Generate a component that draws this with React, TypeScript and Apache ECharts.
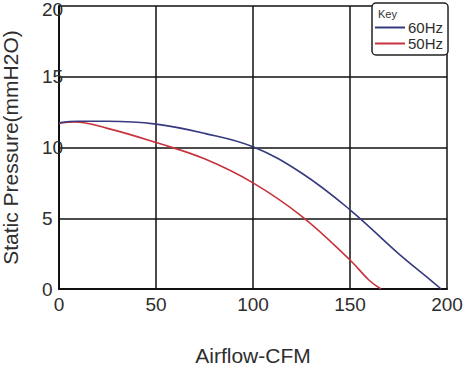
import React, { useEffect, useRef } from "react";
import * as echarts from "echarts";

const xTicks = [0, 50, 100, 150, 200];
const yTicks = [0, 5, 10, 15, 20];

const airflow60 = [0, 10, 25, 50, 75, 100, 125, 150, 175, 190, 197];
const pressure60 = [11.75, 11.85, 11.85, 11.65, 11.0, 10.05, 8.2, 5.6, 2.5, 0.8, 0];

const airflow50 = [0, 8, 25, 50, 75, 100, 125, 150, 160, 166];
const pressure50 = [11.7, 11.8, 11.35, 10.35, 9.2, 7.5, 5.15, 2.05, 0.6, 0];

const seriesNames = ["60Hz", "50Hz"];
const legendTitle = "Key";
const xTitle = "Airflow-CFM";
const yTitle = "Static Pressure(mmH2O)";

const BLUE = "#363a7e";
const RED = "#c8323c";
const TEXT = "#2e2e2e";
const FONT = "Liberation Sans, Arial, sans-serif";

export default function App() {
  const ref = useRef<HTMLDivElement>(null);
  useEffect(() => {
    if (!ref.current) return;
    const chart = echarts.init(ref.current, null, { renderer: "svg" });
    const pair = (xs: number[], ys: number[]) => xs.map((x, i) => [x, ys[i]]);
    const yMax = yTicks[yTicks.length - 1];
    chart.setOption({
      animation: false,
      backgroundColor: "#ffffff",
      textStyle: { fontFamily: FONT },
      grid: { left: 59, right: 22, top: 6, bottom: 82, containLabel: false, outerBoundsMode: "none" },
      xAxis: {
        type: "value",
        min: xTicks[0],
        max: xTicks[xTicks.length - 1],
        interval: 50,
        name: xTitle,
        nameLocation: "middle",
        nameGap: 56,
        nameTextStyle: { fontSize: 21, color: TEXT, fontFamily: FONT },
        axisLine: { show: true, lineStyle: { color: "#111", width: 2 } },
        axisTick: { show: false },
        axisLabel: { fontSize: 19, color: TEXT, margin: 6, fontFamily: FONT },
        splitLine: { show: true, lineStyle: { color: "#111", width: 1.5 } },
      },
      yAxis: {
        type: "value",
        min: yTicks[0],
        max: yMax,
        interval: 5,
        name: yTitle,
        nameLocation: "middle",
        nameGap: 38,
        nameTextStyle: { fontSize: 21, color: TEXT, fontFamily: FONT },
        axisLine: { show: true, lineStyle: { color: "#111", width: 2 } },
        axisTick: { show: false },
        axisLabel: {
          fontSize: 19,
          color: TEXT,
          margin: 17,
          align: "left",
          fontFamily: FONT,
          formatter: (v: number) => (v === yMax ? `{top|${v}}` : `${v}`),
          rich: {
            top: { fontSize: 19, color: TEXT, fontFamily: FONT, padding: [7, 0, 0, 0] },
          },
        },
        splitLine: { show: true, lineStyle: { color: "#111", width: 1.5 } },
      },
      legend: {
        show: true,
        orient: "vertical",
        left: 372,
        top: 3,
        padding: [17, 5, 4, 3],
        itemGap: 1,
        itemWidth: 30,
        itemHeight: 2,
        icon: "rect",
        borderColor: "#222",
        borderWidth: 1.5,
        borderRadius: 4,
        backgroundColor: "#ffffff",
        textStyle: { fontSize: 15, color: TEXT, lineHeight: 13, padding: [0, 0, 0, -2], fontFamily: FONT },
        data: seriesNames,
      },
      graphic: [
        {
          type: "text",
          left: 378,
          top: 8,
          z: 100,
          style: { text: legendTitle, fontSize: 11, fill: "#333", fontFamily: FONT },
        },
      ],
      series: [
        {
          name: seriesNames[1],
          type: "line",
          smooth: 0.4,
          showSymbol: false,
          symbol: "none",
          data: pair(airflow50, pressure50),
          lineStyle: { color: RED, width: 1.6 },
          itemStyle: { color: RED },
          z: 3,
        },
        {
          name: seriesNames[0],
          type: "line",
          smooth: 0.4,
          showSymbol: false,
          symbol: "none",
          data: pair(airflow60, pressure60),
          lineStyle: { color: BLUE, width: 1.6 },
          itemStyle: { color: BLUE },
          z: 4,
        },
      ],
    });
    return () => chart.dispose();
  }, []);
  return <div ref={ref} style={{ width: 469, height: 371, position: "absolute", left: 0, top: 0 }} />;
}
